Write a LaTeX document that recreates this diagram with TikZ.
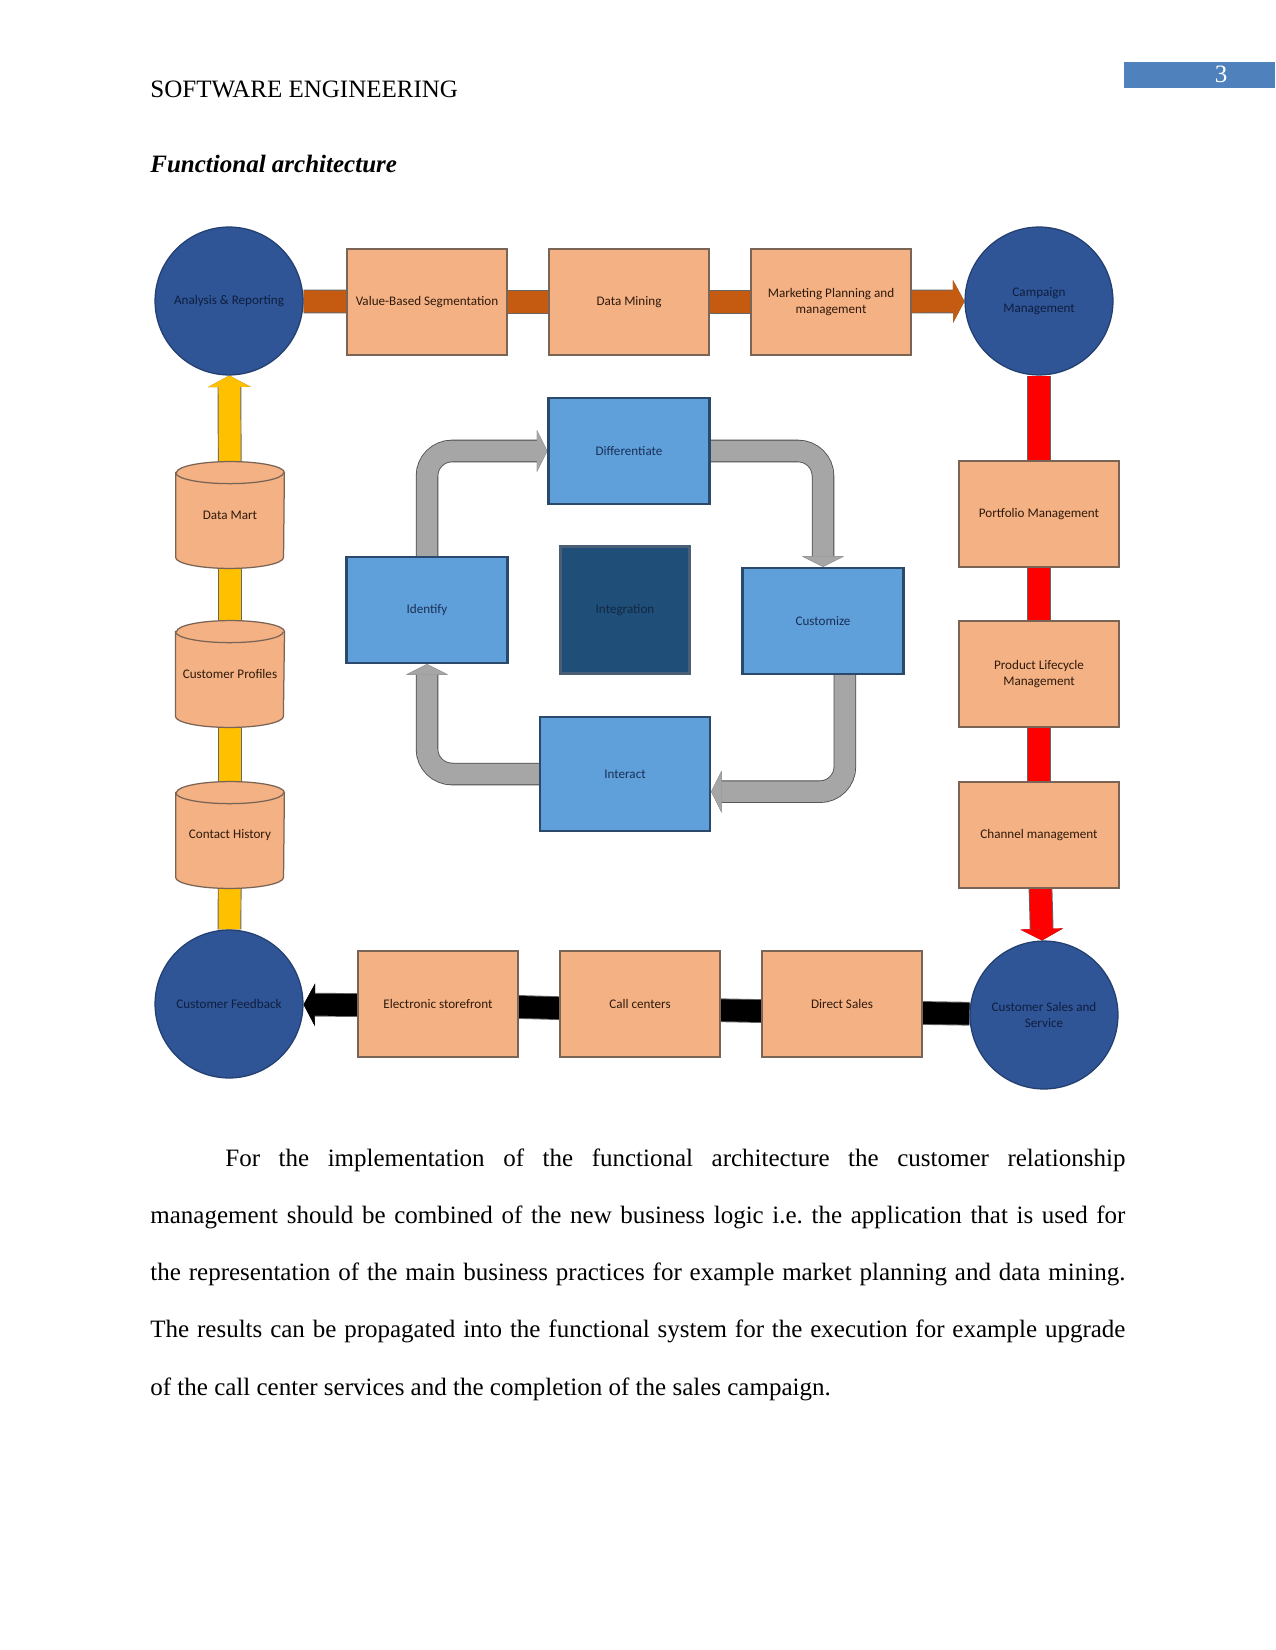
\documentclass[tikz,border=0pt]{standalone}
\usepackage{fontspec}
\setmainfont{Liberation Serif}
\newfontfamily\diagfont{Carlito}
\usetikzlibrary{arrows.meta, positioning}

\definecolor{hubblue}{HTML}{2F5597}
\definecolor{hubline}{HTML}{223F70}
\definecolor{hubtext}{HTML}{0F1E3E}
\definecolor{peach}{HTML}{F4B183}
\definecolor{peachline}{HTML}{7A6455}
\definecolor{peachtext}{HTML}{2E1A0C}
\definecolor{cycblue}{HTML}{5FA0DB}
\definecolor{cycline}{HTML}{2B4A6B}
\definecolor{cyctext}{HTML}{1A2F55}
\definecolor{intblue}{HTML}{1F4E79}
\definecolor{intline}{HTML}{4A5F75}
\definecolor{inttext}{HTML}{112840}
\definecolor{barorange}{HTML}{C55A11}
\definecolor{baryellow}{HTML}{FFC000}
\definecolor{barred}{HTML}{FF0000}
\definecolor{bargray}{HTML}{A6A6A6}
\definecolor{pagebox}{HTML}{4F81BD}

\pgfdeclarelayer{paper}
\pgfdeclarelayer{links}
\pgfsetlayers{paper,links,main}

\tikzset{
  lbl/.style={font=\diagfont\fontsize{6.3}{7.5}\selectfont, align=center},
  hub/.style={lbl, circle, fill=hubblue, draw=hubline, line width=0.6pt, minimum size=71pt, inner sep=0pt, text=hubtext},
  task/.style={lbl, rectangle, fill=peach, draw=peachline, line width=0.6pt, minimum width=76.8pt, minimum height=50.9pt, text=peachtext},
  store/.style={lbl, rectangle, minimum width=51.8pt, minimum height=50.9pt, text=peachtext},
  cyc/.style={lbl, rectangle, fill=cycblue, draw=cycline, line width=1.1pt, minimum width=77.3pt, minimum height=50.9pt, text=cyctext},
  bar/.style={line width=10.5pt, preaction={draw=black!60, line width=11.4pt}},
  blockhead/.style={-{Triangle[length=5.5pt 0, width=20.5pt 0, line width=0.2pt 0]}},
  flow/.style={draw=bargray, line width=10pt, rounded corners=12pt,
    preaction={draw=gray!60!black, line width=10.8pt},
    -{Triangle[length=5pt 0, width=20pt 0, line width=0.2pt 0]}}
}

\begin{document}
\begin{tikzpicture}[x=0.48pt, y=-0.48pt]
  % 页面
  \begin{pgfonlayer}{paper}
    \fill[white] (0,0) rectangle (1275,1650);
  \end{pgfonlayer}
  \fill[pagebox] (1124,62) rectangle (1275,88);
  \node[anchor=base, inner sep=0pt, text=white, font=\fontsize{12}{14}\selectfont] (pgno) at (1221,83) {3};
  \node[anchor=base west, inner sep=0pt, font=\fontsize{12}{14}\selectfont] (hdr) at (150,98) {SOFTWARE ENGINEERING};
  \node[anchor=base west, inner sep=0pt, font=\fontsize{12}{14}\selectfont\bfseries\itshape] (ttl) at (150,173) {Functional architecture};

  % 四个角的圆
  \node[hub] (ana) at (229,301) {Analysis \& Reporting};
  \node[hub] (camp) at (1039,301) {Campaign\\Management};
  \node[hub] (fb) at (229,1004) {Customer Feedback};
  \node[hub] (css) at (1044,1015) {Customer Sales and\\Service};

  % 上排
  \foreach \n/\x/\t in {vbs/427/Value-Based Segmentation, dmin/629/Data Mining, mpm/831/{Marketing Planning and\\management}} {
    \node[task] (\n) at (\x,302) {\t};
  }
  % 右列
  \foreach \n/\y/\t in {pm/514/Portfolio Management, plm/674/{Product Lifecycle\\Management}, chm/835/Channel management} {
    \node[task] (\n) at (1039,\y) {\t};
  }
  % 下排
  \foreach \n/\x/\t in {es/438/Electronic storefront, cc/640/Call centers, ds/842/Direct Sales} {
    \node[task] (\n) at (\x,1004) {\t};
  }
  % 左列（数据库）
  \foreach \n/\y/\t in {dmart/515/Data Mart, cprof/674/Customer Profiles, chist/835/Contact History} {
    \node[store] (\n) at (230,\y) {\t};
  }

  % 中间的循环
  \node[cyc] (dif) at (629,451) {Differentiate};
  \node[cyc] (idf) at (427,610) {Identify};
  \node[cyc] (cus) at (823,621) {Customize};
  \node[cyc, minimum width=81.6pt, minimum height=54.7pt] (int) at (625,774) {Interact};
  \node[cyc, fill=intblue, draw=intline, text=inttext, minimum width=62pt, minimum height=61pt] (integ) at (625,610) {Integration};

  \begin{pgfonlayer}{links}
    % 上排：橙色
    \draw[bar, barorange] (ana) -- (vbs);
    \draw[bar, barorange] (vbs) -- (dmin);
    \draw[bar, barorange] (dmin) -- (mpm);
    \draw[bar, barorange, blockhead] (mpm) -- (camp);
    % 右列：红色
    \draw[bar, barred] (camp) -- (pm);
    \draw[bar, barred] (pm) -- (plm);
    \draw[bar, barred] (plm) -- (chm);
    \draw[bar, barred, blockhead] (chm) -- (css);
    % 下排：黑色（略微倾斜）
    \draw[bar, black] (css) -- ([yshift=-4.3pt]ds.east);
    \draw[bar, black] ([yshift=-3.4pt]ds.west) -- ([yshift=-3pt]cc.east);
    \draw[bar, black] ([yshift=-2pt]cc.west) -- ([yshift=-1.4pt]es.east);
    \draw[bar, black, blockhead] ([yshift=-0.5pt]es.west) -- (fb);
    % 左列：黄色
    \draw[bar, baryellow] (fb) -- (chist);
    \draw[bar, baryellow] (chist) -- (cprof);
    \draw[bar, baryellow] (cprof) -- (dmart);
    \draw[bar, baryellow, blockhead] (dmart) -- (ana);
    % 圆柱
    \foreach \n in {dmart, cprof, chist} {
      \filldraw[fill=peach, draw=peachline, line width=0.6pt]
        ([yshift=-5.3pt]\n.north west) -- ([yshift=5.3pt]\n.south west)
        arc (180:360:25.9pt and 5.3pt) -- ([yshift=-5.3pt]\n.north east)
        arc (0:180:25.9pt and 5.3pt) -- cycle;
      \draw[peachline, line width=0.6pt] ([yshift=-5.3pt]\n.north west) arc (180:360:25.9pt and 5.3pt);
    }
    % 灰色箭头
    \draw[flow] (idf.north) |- (dif.west);
    \draw[flow] (dif.east) -| (cus.north);
    \draw[flow] ([xshift=10.5pt]cus.south) |- ([yshift=-8.5pt]int.east);
    \draw[flow] (int.west) -| (idf.south);
  \end{pgfonlayer}

  % 正文
  \node[anchor=north west, inner sep=0pt, text width=468pt, align=justify, font=\fontsize{12}{27.5}\selectfont] (para) at (150,1148) {\hspace*{36pt}For the implementation of the functional architecture the customer relationship\linebreak management should be combined of the new business logic i.e.\ the application that is used for\linebreak the representation of the main business practices for example market planning and data mining.\linebreak The results can be propagated into the functional system for the execution for example upgrade\linebreak of the call center services and the completion of the sales campaign.};
\end{tikzpicture}
\end{document}
